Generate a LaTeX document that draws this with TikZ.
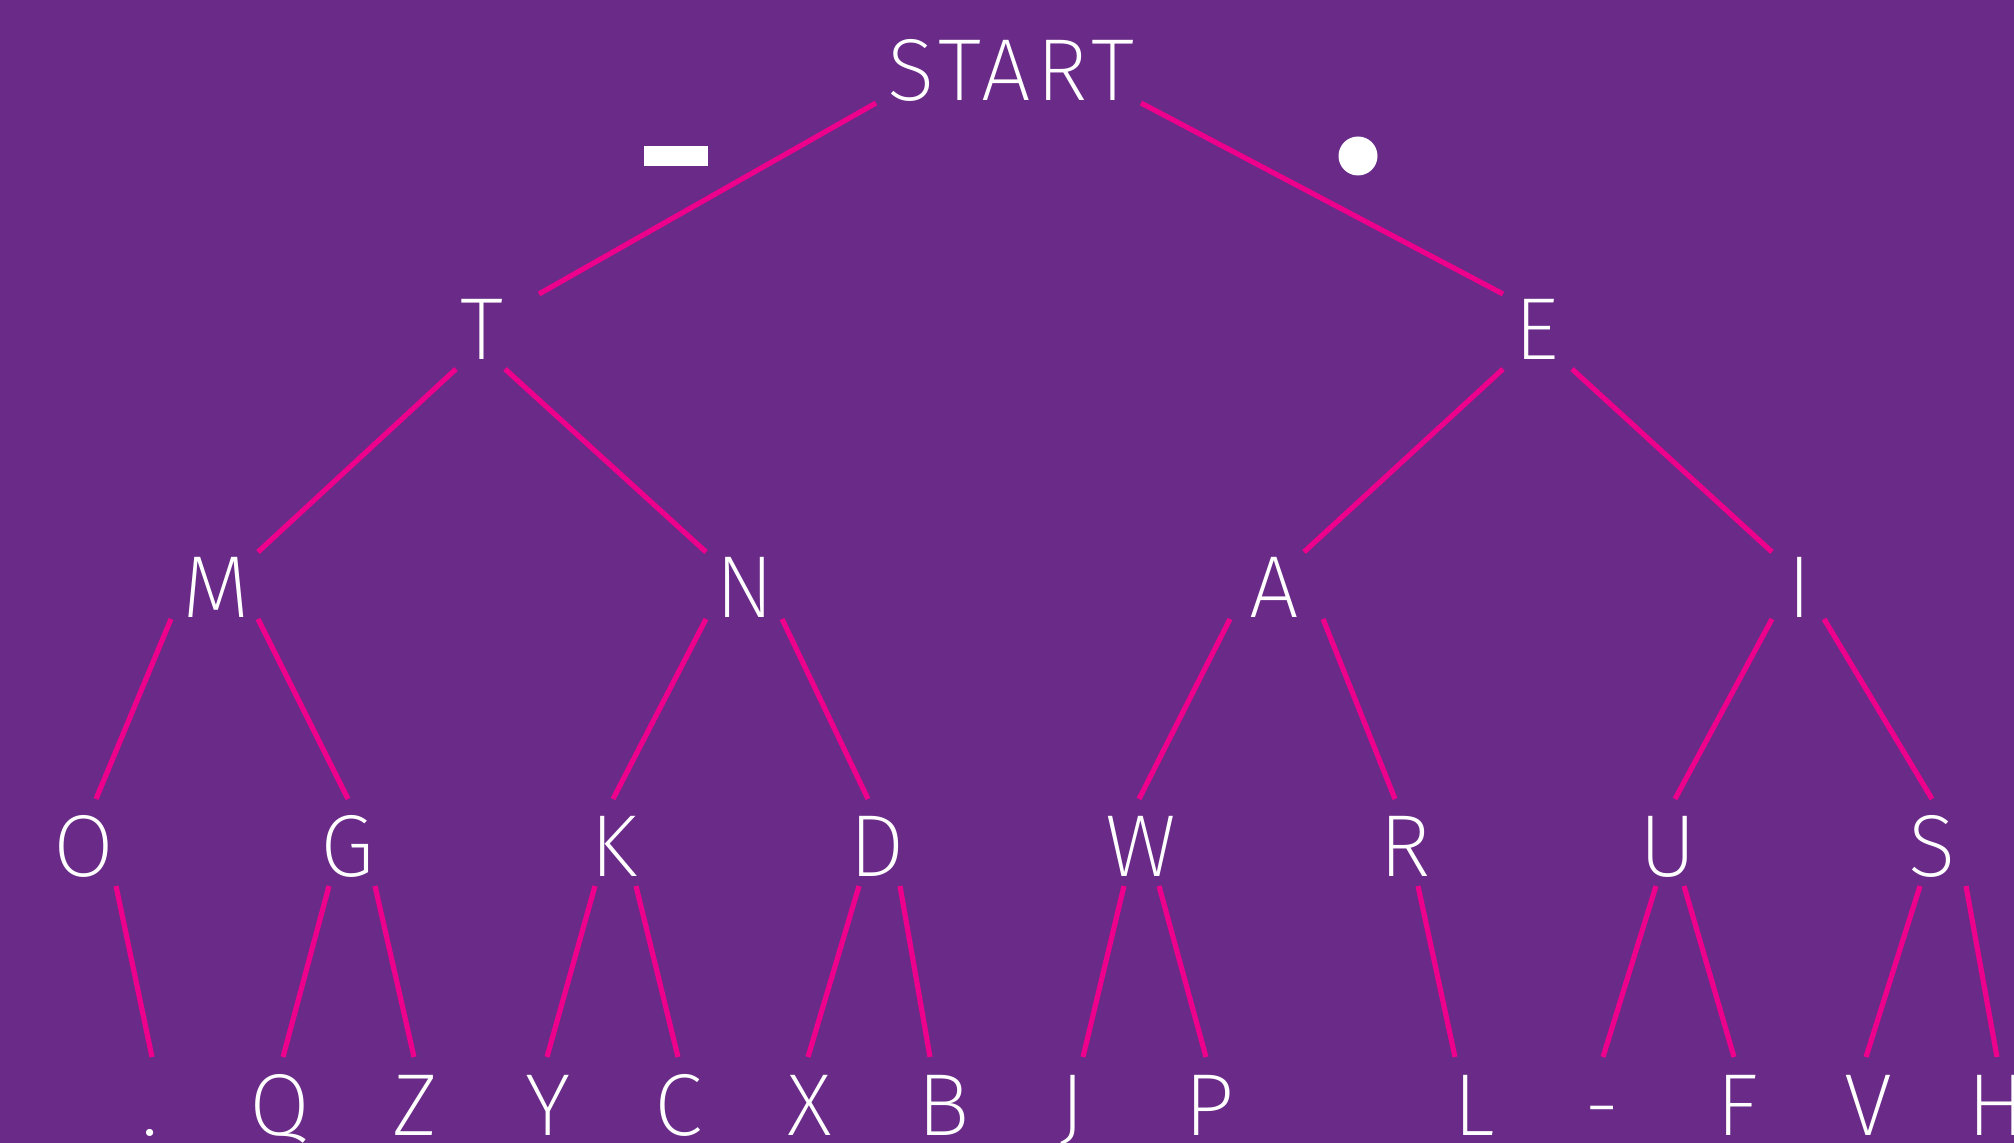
\documentclass[tikz,border=0pt]{standalone}
\usepackage{fontspec}
\setmainfont{Fira Sans ExtraLight}
\definecolor{bgpurple}{HTML}{692A88}
\definecolor{linkpink}{HTML}{EC008C}
\newcommand{\conn}[4]{\draw[link] ([shift={(#2)}]#1.base) -- ([shift={(#4)}]#3.base);}
\begin{document}
\begin{tikzpicture}[x=0.5pt,y=-0.5pt,
  lbl/.style={anchor=base,inner sep=0pt,outer sep=0pt,text=white,font=\fontsize{44}{44}\selectfont},
  link/.style={draw=linkpink,line width=2.6pt}]
\useasboundingbox (0,0) rectangle (2014,1143);
\clip (0,0) rectangle (2014,1143);
\fill[bgpurple] (0,0) rectangle (2014,1143);
% nodes
\node[lbl] (START) at (1011,101) {\addfontfeatures{LetterSpace=6}START};
\node[lbl] (T) at (482,360) {T};
\node[lbl] (E) at (1537,360) {E};
\node[lbl] (M) at (216,618) {M};
\node[lbl] (N) at (745,618) {N};
\node[lbl] (A) at (1274,618) {A};
\node[lbl] (I) at (1800,618) {I};
\node[lbl] (O) at (84,877) {O};
\node[lbl] (G) at (348,877) {G};
\node[lbl] (K) at (614,877) {K};
\node[lbl] (D) at (877,877) {D};
\node[lbl] (W) at (1141,877) {W};
\node[lbl] (R) at (1405,877) {R};
\node[lbl] (U) at (1668,877) {U};
\node[lbl] (S) at (1932,877) {S};
\node[lbl] (dot) at (150,1135) {.};
\node[lbl] (Q) at (280,1135) {Q};
\node[lbl] (Z) at (415,1135) {Z};
\node[lbl] (Y) at (548,1135) {Y};
\node[lbl] (C) at (679,1135) {C};
\node[lbl] (X) at (810,1135) {X};
\node[lbl] (B) at (944,1135) {B};
\node[lbl] (J) at (1072,1135) {J};
\node[lbl] (P) at (1209,1135) {P};
\node[lbl] (L) at (1474,1135) {L};
\node[lbl] (dash) at (1602,1135) {-};
\node[lbl] (F) at (1737,1135) {F};
\node[lbl] (V) at (1868,1135) {V};
\node[lbl] (H) at (1997,1135) {H};
% dash and dot symbols
\fill[white] (644,146) rectangle (708,166);
\fill[white] (1358,156) circle (19.5);
% connectors
\conn{START}{-135,2}{T}{57,-66}
\conn{START}{130,2}{E}{-34,-66}
\conn{T}{-26,9}{M}{42,-66}
\conn{T}{23,9}{N}{-39,-66}
\conn{E}{-34,9}{A}{30,-66}
\conn{E}{35,9}{I}{-28,-66}
\conn{M}{-45,1}{O}{12,-78}
\conn{M}{42,1}{G}{0,-78}
\conn{N}{-39,1}{K}{-1,-78}
\conn{N}{37,1}{D}{-9,-78}
\conn{A}{-44,1}{W}{-2,-78}
\conn{A}{49,1}{R}{-10,-78}
\conn{I}{-28,1}{U}{7,-78}
\conn{I}{24,1}{S}{0,-78}
\conn{O}{32,9}{dot}{2,-78}
\conn{G}{-19,9}{Q}{3,-78}
\conn{G}{27,9}{Z}{-1,-78}
\conn{K}{-19,9}{Y}{-1,-78}
\conn{K}{22,9}{C}{-1,-78}
\conn{D}{-18,9}{X}{-2,-78}
\conn{D}{23,9}{B}{-14,-78}
\conn{W}{-17,9}{J}{11,-78}
\conn{W}{18,9}{P}{-3,-78}
\conn{R}{13,9}{L}{-19,-78}
\conn{U}{-12,9}{dash}{1,-78}
\conn{U}{16,9}{F}{-3,-78}
\conn{S}{-12,9}{V}{-2,-78}
\conn{S}{34,9}{H}{0,-78}
\end{tikzpicture}
\end{document}
